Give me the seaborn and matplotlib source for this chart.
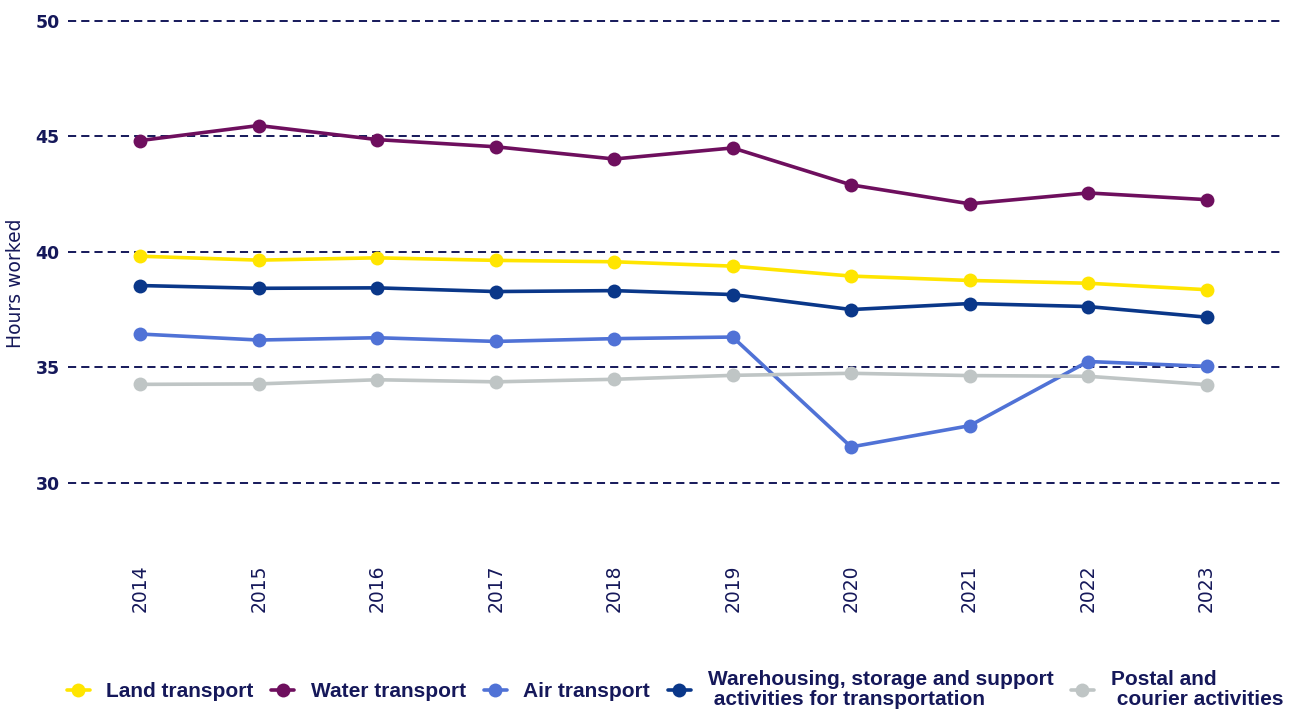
import matplotlib
matplotlib.use("Agg")
import matplotlib.pyplot as plt
from matplotlib.lines import Line2D
import seaborn as sns
import pandas as pd

years = [2014, 2015, 2016, 2017, 2018, 2019, 2020, 2021, 2022, 2023]
land_transport = [39.81, 39.64, 39.74, 39.63, 39.57, 39.38, 38.95, 38.76, 38.64, 38.36]
water_transport = [44.82, 45.47, 44.86, 44.55, 44.02, 44.50, 42.90, 42.08, 42.55, 42.26]
air_transport = [36.44, 36.18, 36.28, 36.12, 36.24, 36.31, 31.55, 32.47, 35.25, 35.04]
warehousing = [38.54, 38.42, 38.44, 38.28, 38.32, 38.15, 37.50, 37.76, 37.63, 37.17]
postal = [34.26, 34.28, 34.46, 34.37, 34.48, 34.65, 34.74, 34.64, 34.61, 34.25]

series_names = [
    "Land transport",
    "Water transport",
    "Air transport",
    "Warehousing, storage and support\n activities for transportation",
    "Postal and\n courier activities",
]
series_values = [land_transport, water_transport, air_transport, warehousing, postal]
colors = ["#FFE500", "#6E0F5E", "#5072D6", "#0A3789", "#BFC5C5"]
y_ticks = [30, 35, 40, 45, 50]

navy = "#15185A"

rows = []
for name, vals in zip(series_names, series_values):
    for yr, v in zip(years, vals):
        rows.append({"year": yr, "hours": v, "series": name})
df = pd.DataFrame(rows)

sns.set_theme(style="white")
plt.rcParams["font.family"] = ["DejaVu Sans"]

fig = plt.figure(figsize=(12.92, 7.11), dpi=100)
ax = fig.add_axes([68 / 1292, 1 - 552 / 711, (1280 - 68) / 1292, (552 - 14) / 711])

# dashed horizontal reference lines
for yv in y_ticks:
    ax.axhline(yv, color=navy, lw=1.4, linestyle=(0, (4.2, 2.6)), zorder=1)

sns.lineplot(
    data=df, x="year", y="hours", hue="series", hue_order=series_names,
    palette=colors, marker="o", markersize=10, markeredgewidth=0,
    linewidth=2.6, legend=False, ax=ax, zorder=3,
)

ax.set_xlim(2013.39, 2023.62)
ax.set_ylim(27, 50.3)
ax.set_yticks(y_ticks)
ax.set_xticks(years)
ax.set_xticklabels([str(y) for y in years], rotation=90, fontsize=13.5,
                   fontweight="medium", color=navy)
ax.set_yticklabels([str(y) for y in y_ticks], fontsize=12.5,
                   fontweight="bold", color=navy)
ax.tick_params(axis="x", length=0, pad=9)
ax.tick_params(axis="y", length=0, pad=6)
ax.set_xlabel("")
ax.set_ylabel("Hours worked", fontsize=13.5, fontweight="medium", color=navy)
ax.yaxis.set_label_coords(-0.0355, 0.5)
for sp in ax.spines.values():
    sp.set_visible(False)
ax.grid(False)

handles = [
    Line2D([0], [0], color=c, lw=2.6, marker="o", markersize=10, markeredgewidth=0)
    for c in colors
]
leg = fig.legend(
    handles, series_names, loc="center", bbox_to_anchor=(0.5224, 0.03),
    ncol=5, frameon=False, handlelength=1.1, handletextpad=0.8,
    columnspacing=0.85,
    prop={"family": "Liberation Sans", "weight": "bold", "size": 15},
)
for t in leg.get_texts():
    t.set_color(navy)
    t.set_linespacing(1.05)

fig.savefig("out.png", dpi=100, facecolor="white")
